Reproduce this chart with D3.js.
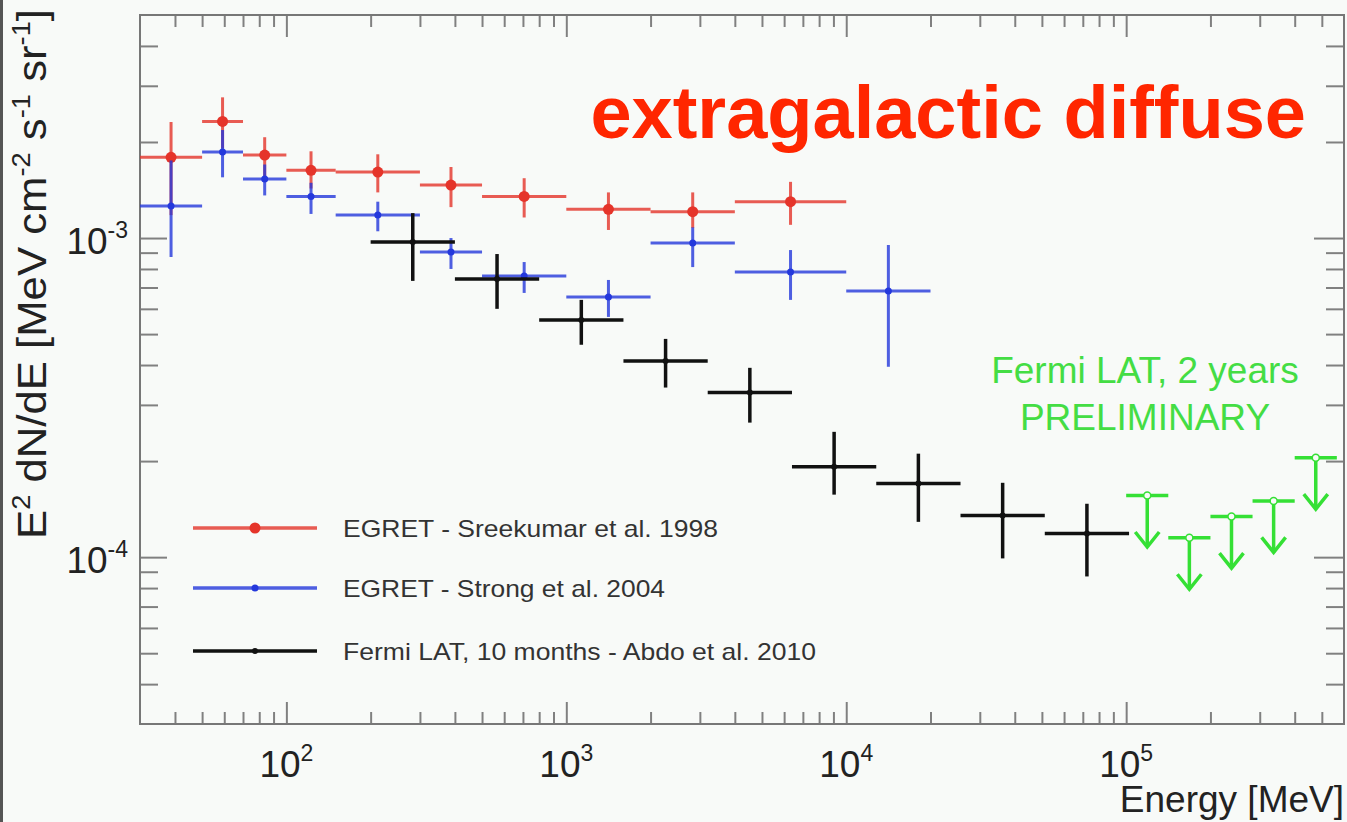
<!DOCTYPE html>
<html>
<head>
    <meta charset="utf-8">
    <title>extragalactic diffuse</title>
    <script type="text/javascript" src="https://d3js.org/d3.v7.min.js"></script>
    <style>
      body { margin: 0; background: #f8faf8; }
      svg { display: block; font-family: "Liberation Sans", Arial, Helvetica, sans-serif; }
    </style>
</head>
<body>
<script type="text/javascript">
    // ---- data (MeV, MeV cm^-2 s^-1 sr^-1) ----
    // EGRET - Sreekumar et al. 1998
    var sreekEdges = [30, 50, 70, 100, 150, 300, 500, 1000, 2000, 4000, 10000]
    var sreekVal   = [1.79e-3, 2.32e-3, 1.82e-3, 1.63e-3, 1.61e-3, 1.465e-3, 1.35e-3, 1.23e-3, 1.21e-3, 1.30e-3]
    var sreekLo    = [1.18e-3, 1.91e-3, 1.56e-3, 1.43e-3, 1.39e-3, 1.25e-3, 1.16e-3, 1.06e-3, 1.075e-3, 1.10e-3]
    var sreekHi    = [2.31e-3, 2.76e-3, 2.07e-3, 1.87e-3, 1.83e-3, 1.67e-3, 1.54e-3, 1.39e-3, 1.39e-3, 1.50e-3]

    // EGRET - Strong et al. 2004
    var strongEdges = [30, 50, 70, 100, 150, 300, 500, 1000, 2000, 4000, 10000, 20000]
    var strongVal   = [1.26e-3, 1.86e-3, 1.53e-3, 1.35e-3, 1.18e-3, 0.904e-3, 0.76e-3, 0.654e-3, 0.965e-3, 0.783e-3, 0.683e-3]
    var strongLo    = [0.872e-3, 1.55e-3, 1.36e-3, 1.19e-3, 1.05e-3, 0.80e-3, 0.673e-3, 0.566e-3, 0.811e-3, 0.64e-3, 0.395e-3]
    var strongHi    = [1.75e-3, 2.18e-3, 1.70e-3, 1.49e-3, 1.30e-3, 1.0e-3, 0.841e-3, 0.739e-3, 1.08e-3, 0.917e-3, 0.951e-3]

    // Fermi LAT, 10 months - Abdo et al. 2010
    var abdoEdges = [200, 400, 800, 1600, 3200, 6400, 12800, 25600, 51200, 102400]
    var abdoVal   = [0.972e-3, 0.744e-3, 0.554e-3, 0.412e-3, 0.328e-3, 0.192e-3, 0.170e-3, 0.135e-3, 0.1186e-3]
    var abdoLo    = [0.734e-3, 0.600e-3, 0.463e-3, 0.340e-3, 0.264e-3, 0.157e-3, 0.129e-3, 0.0991e-3, 0.087e-3]
    var abdoHi    = [1.197e-3, 0.891e-3, 0.640e-3, 0.483e-3, 0.392e-3, 0.247e-3, 0.211e-3, 0.171e-3, 0.147e-3]

    // Fermi LAT, 2 years PRELIMINARY (upper limits)
    var ulEdges = [100000, 141400, 200000, 282800, 400000, 565700]
    var ulVal   = [1.56e-4, 1.15e-4, 1.34e-4, 1.50e-4, 2.05e-4]

    var xMajor = [1e2, 1e3, 1e4, 1e5]
    var xMajorExp = ["2", "3", "4", "5"]
    var yMajor = [1e-4, 1e-3]
    var yMajorExp = ["-4", "-3"]

    var legendLabels = ["EGRET - Sreekumar et al. 1998", "EGRET - Strong et al. 2004", "Fermi LAT, 10 months - Abdo et al. 2010"]

    // ---- setup ----
    var width = 1347, height = 822
    var pLeft = 140, pRight = 1344, pTop = 15, pBottom = 724
    var svg = d3.select("body").append("svg")
        .attr("width", width).attr("height", height)

    svg.append("rect").attr("width", width).attr("height", height).attr("fill", "#f8faf8")
    svg.append("rect").attr("x", 0).attr("y", 0).attr("width", 3).attr("height", height).attr("fill", "#555")

    var x = d3.scaleLog().domain([30, 6e5]).range([pLeft, pRight])
    var y = d3.scaleLog().domain([3e-5, 5e-3]).range([pBottom, pTop])

    // minor ticks
    function minors(lo, hi) {
        var out = []
        for (var e = Math.floor(Math.log10(lo)); e <= Math.ceil(Math.log10(hi)); e++) {
            for (var k = 2; k <= 9; k++) {
                var v = k * Math.pow(10, e)
                if (v > lo * 1.001 && v < hi * 0.999) out.push(v)
            }
        }
        return out
    }
    var xMinor = minors(30, 6e5)
    var yMinor = minors(3e-5, 5e-3)

    var tickCol = "#808080"
    function styleAxis(g) {
        g.select(".domain").remove()
        g.selectAll("line").attr("stroke", tickCol).attr("stroke-width", 2)
    }
    svg.append("g").attr("transform", "translate(0," + pBottom + ")")
        .call(d3.axisBottom(x).tickValues(xMinor).tickSize(-12).tickFormat("")).call(styleAxis)
    svg.append("g").attr("transform", "translate(0," + pBottom + ")")
        .call(d3.axisBottom(x).tickValues(xMajor).tickSize(-22).tickFormat("")).call(styleAxis)
    svg.append("g").attr("transform", "translate(0," + pTop + ")")
        .call(d3.axisTop(x).tickValues(xMinor).tickSize(-12).tickFormat("")).call(styleAxis)
    svg.append("g").attr("transform", "translate(0," + pTop + ")")
        .call(d3.axisTop(x).tickValues(xMajor).tickSize(-22).tickFormat("")).call(styleAxis)
    svg.append("g").attr("transform", "translate(" + pLeft + ",0)")
        .call(d3.axisLeft(y).tickValues(yMinor).tickSize(-18).tickFormat("")).call(styleAxis)
    svg.append("g").attr("transform", "translate(" + pLeft + ",0)")
        .call(d3.axisLeft(y).tickValues(yMajor).tickSize(-27).tickFormat("")).call(styleAxis)
    svg.append("g").attr("transform", "translate(" + pRight + ",0)")
        .call(d3.axisRight(y).tickValues(yMinor).tickSize(-18).tickFormat("")).call(styleAxis)
    svg.append("g").attr("transform", "translate(" + pRight + ",0)")
        .call(d3.axisRight(y).tickValues(yMajor).tickSize(-30).tickFormat("")).call(styleAxis)

    svg.append("rect").attr("x", pLeft).attr("y", pTop)
        .attr("width", pRight - pLeft).attr("height", pBottom - pTop)
        .attr("fill", "none").attr("stroke", "#777").attr("stroke-width", 2)

    // tick labels
    xMajor.forEach(function(v, i) {
        var t = svg.append("text").attr("x", x(v)).attr("y", 777)
            .attr("text-anchor", "middle").attr("font-size", 37).attr("fill", "#222")
        t.append("tspan").text("10")
        t.append("tspan").attr("dy", -16).attr("font-size", 23).text(xMajorExp[i])
    })
    yMajor.forEach(function(v, i) {
        var t = svg.append("text").attr("x", 128).attr("y", y(v) + 16)
            .attr("text-anchor", "end").attr("font-size", 37).attr("fill", "#222")
        t.append("tspan").text("10")
        t.append("tspan").attr("dy", -16).attr("font-size", 23).text(yMajorExp[i])
    })

    // axis titles
    svg.append("text").attr("x", 1344).attr("y", 812).attr("text-anchor", "end")
        .attr("font-size", 37).attr("fill", "#222").text("Energy [MeV]")

    var yt = svg.append("text").attr("transform", "translate(46,274) rotate(-90)")
        .attr("text-anchor", "middle").attr("font-size", 40).attr("fill", "#222")
        .attr("textLength", 530).attr("lengthAdjust", "spacingAndGlyphs")
    yt.append("tspan").text("E")
    yt.append("tspan").attr("dy", -16).attr("font-size", 25).text("2")
    yt.append("tspan").attr("dy", 16).text(" dN/dE [MeV cm")
    yt.append("tspan").attr("dy", -16).attr("font-size", 25).text("-2")
    yt.append("tspan").attr("dy", 16).text(" s")
    yt.append("tspan").attr("dy", -16).attr("font-size", 25).text("-1")
    yt.append("tspan").attr("dy", 16).text(" sr")
    yt.append("tspan").attr("dy", -16).attr("font-size", 25).text("-1")
    yt.append("tspan").attr("dy", 16).text("]")

    // series
    function drawSeries(edges, vals, lo, hi, color, barOpacity, sw, r, cls) {
        var pts = vals.map(function(v, i) {
            return {e0: edges[i], e1: edges[i + 1], ec: Math.sqrt(edges[i] * edges[i + 1]), v: v, lo: lo[i], hi: hi[i]}
        })
        var g = svg.append("g").attr("class", cls)
        g.selectAll("line.h").data(pts).enter().append("line").attr("class", "h")
            .attr("x1", function(d) { return x(d.e0) }).attr("x2", function(d) { return x(d.e1) })
            .attr("y1", function(d) { return y(d.v) }).attr("y2", function(d) { return y(d.v) })
            .attr("stroke", color).attr("stroke-width", sw).attr("opacity", barOpacity)
        g.selectAll("line.v").data(pts).enter().append("line").attr("class", "v")
            .attr("x1", function(d) { return x(d.ec) }).attr("x2", function(d) { return x(d.ec) })
            .attr("y1", function(d) { return y(d.lo) }).attr("y2", function(d) { return y(d.hi) })
            .attr("stroke", color).attr("stroke-width", sw).attr("opacity", barOpacity)
        g.selectAll("circle").data(pts).enter().append("circle")
            .attr("cx", function(d) { return x(d.ec) }).attr("cy", function(d) { return y(d.v) })
            .attr("r", r).attr("fill", color)
    }
    drawSeries(sreekEdges, sreekVal, sreekLo, sreekHi, "#e5342a", 0.8, 3, 5.5, "sreekumar")
    drawSeries(strongEdges, strongVal, strongLo, strongHi, "#2438dc", 0.8, 3, 3.5, "strong")
    drawSeries(abdoEdges, abdoVal, abdoLo, abdoHi, "#111", 1, 3.5, 3, "abdo")

    // upper limits
    var green = "#35e035"
    var ul = ulVal.map(function(v, i) {
        return {e0: ulEdges[i], e1: ulEdges[i + 1], ec: Math.sqrt(ulEdges[i] * ulEdges[i + 1]), v: v}
    })
    var gu = svg.append("g").attr("class", "upperlimits")
    gu.selectAll("line.h").data(ul).enter().append("line").attr("class", "h")
        .attr("x1", function(d) { return x(d.e0) }).attr("x2", function(d) { return Math.min(x(d.e1), pRight) })
        .attr("y1", function(d) { return y(d.v) }).attr("y2", function(d) { return y(d.v) })
        .attr("stroke", green).attr("stroke-width", 3.5)
    gu.selectAll("line.v").data(ul).enter().append("line").attr("class", "v")
        .attr("x1", function(d) { return x(d.ec) }).attr("x2", function(d) { return x(d.ec) })
        .attr("y1", function(d) { return y(d.v) }).attr("y2", function(d) { return y(d.v / 1.45) })
        .attr("stroke", green).attr("stroke-width", 3.5)
    gu.selectAll("path").data(ul).enter().append("path")
        .attr("d", function(d) {
            var cx = x(d.ec), ty = y(d.v / 1.45)
            return "M" + (cx - 12) + "," + (ty - 15) + "L" + cx + "," + ty + "L" + (cx + 12) + "," + (ty - 15)
        })
        .attr("fill", "none").attr("stroke", green).attr("stroke-width", 3.5)
    gu.selectAll("circle").data(ul).enter().append("circle")
        .attr("cx", function(d) { return x(d.ec) }).attr("cy", function(d) { return y(d.v) })
        .attr("r", 3.5).attr("fill", "#f8faf8").attr("stroke", green).attr("stroke-width", 1.5)

    // legend
    var legColors = ["#e5342a", "#2438dc", "#111"]
    var legR = [5.5, 3.5, 3]
    var legY = [528, 588, 651]
    var legLen = [375, 322, 473]
    legendLabels.forEach(function(lab, i) {
        svg.append("line").attr("x1", 193).attr("x2", 317).attr("y1", legY[i]).attr("y2", legY[i])
            .attr("stroke", legColors[i]).attr("stroke-width", 3.5).attr("opacity", i < 2 ? 0.8 : 1)
        svg.append("circle").attr("cx", 255).attr("cy", legY[i]).attr("r", legR[i]).attr("fill", legColors[i])
        svg.append("text").attr("x", 343).attr("y", legY[i] + 9).attr("font-size", 24).attr("fill", "#333")
            .attr("textLength", legLen[i]).attr("lengthAdjust", "spacingAndGlyphs").text(lab)
    })

    // annotations
    svg.append("text").attr("x", 1306).attr("y", 138).attr("text-anchor", "end")
        .attr("font-size", 74).attr("font-weight", "bold").attr("fill", "#ff2600").text("extragalactic diffuse")
    svg.append("text").attr("x", 1145).attr("y", 383).attr("text-anchor", "middle")
        .attr("font-size", 37).attr("fill", "#44dd44").text("Fermi LAT, 2 years")
    svg.append("text").attr("x", 1145).attr("y", 430).attr("text-anchor", "middle")
        .attr("font-size", 37).attr("fill", "#44dd44").text("PRELIMINARY")
</script>
</body>
</html>
